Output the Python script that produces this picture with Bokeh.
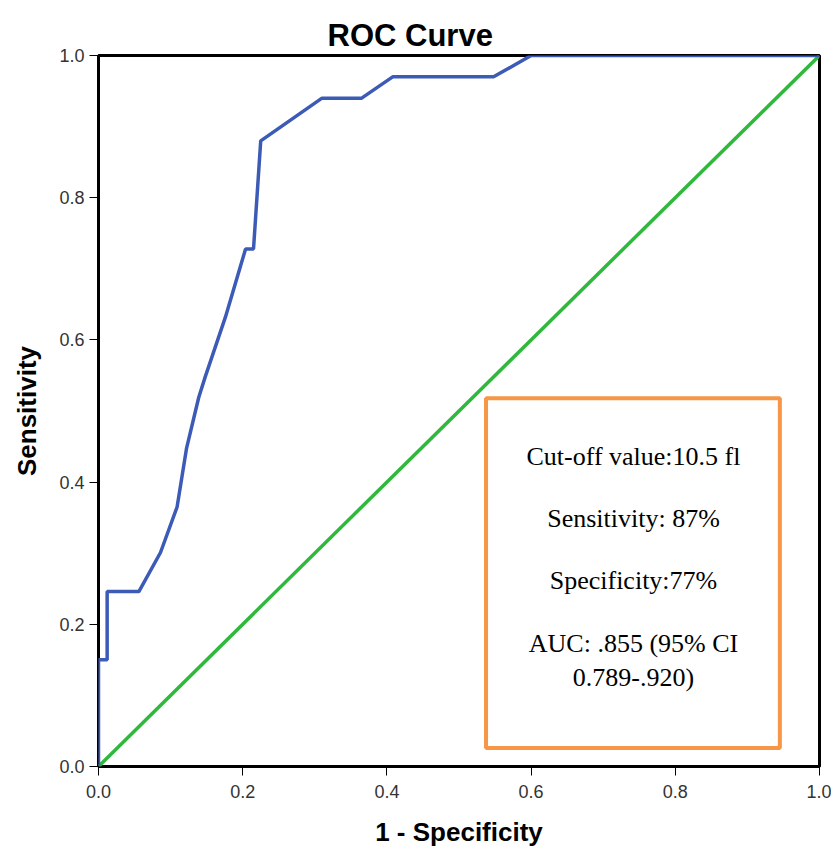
from bokeh.plotting import figure
from bokeh.models import Range1d, FixedTicker, PrintfTickFormatter, BoxAnnotation, Label, Title
from bokeh.embed import file_html
from bokeh.resources import INLINE

# ---- data ----
fpr = [0.0, 0.0, 0.012, 0.012, 0.056, 0.086, 0.109, 0.122, 0.139, 0.148, 0.176, 0.204, 0.215, 0.225,
       0.31, 0.365, 0.408, 0.548, 0.6, 1.0]
tpr = [0.0, 0.15, 0.15, 0.246, 0.246, 0.301, 0.365, 0.447, 0.519, 0.548, 0.632, 0.728, 0.728, 0.88,
       0.94, 0.94, 0.97, 0.97, 1.0, 1.0]
ref_x = [0.0, 1.0]
ref_y = [0.0, 1.0]
ticks = [0.0, 0.2, 0.4, 0.6, 0.8, 1.0]
box_lines = ["Cut-off value:10.5 fl", "Sensitivity: 87%", "Specificity:77%",
             "AUC: .855 (95% CI", "0.789-.920)"]

# ---- layout / style ----
BLUE = "#3c5bb6"
GREEN = "#2fb83c"
ORANGE = "#f79646"

p = figure(width=831, height=849, output_backend="svg", toolbar_location=None,
           x_range=Range1d(0, 1), y_range=Range1d(0, 1),
           min_border_left=98, min_border_right=12, min_border_top=55, min_border_bottom=83)

t = Title(text="ROC Curve", align="left", offset=229, text_font="Liberation Sans",
          text_font_size="31px", text_font_style="bold", text_color="#000000", standoff=4,
          vertical_align="middle")
p.add_layout(t, "above")

p.background_fill_color = "white"
p.border_fill_color = "white"
p.outline_line_color = "black"
p.outline_line_width = 3
p.xgrid.visible = False
p.ygrid.visible = False

for ax in (p.xaxis, p.yaxis):
    ax.ticker = FixedTicker(ticks=ticks)
    ax.formatter = PrintfTickFormatter(format="%.1f")
    ax.axis_line_color = None
    ax.major_tick_line_color = "black"
    ax.major_tick_line_width = 1
    ax.major_tick_out = 9
    ax.major_tick_in = 0
    ax.minor_tick_line_color = None
    ax.major_label_text_font = "Liberation Sans"
    ax.major_label_text_font_size = "18px"
    ax.major_label_text_color = "#333333"
    ax.axis_label_text_font = "Liberation Sans"
    ax.axis_label_text_font_size = "26px"
    ax.axis_label_text_font_style = "bold"
    ax.axis_label_text_color = "#000000"

p.xaxis.axis_label = "1 - Specificity"
p.yaxis.axis_label = "Sensitivity"
p.xaxis.major_label_standoff = 9
p.yaxis.major_label_standoff = 5
p.xaxis.axis_label_standoff = 16
p.yaxis.axis_label_standoff = 14

p.line(ref_x, ref_y, line_color=GREEN, line_width=3.5)
p.line(fpr, tpr, line_color=BLUE, line_width=3.5)

box = BoxAnnotation(left=0.5375, right=0.945, bottom=0.026, top=0.518,
                    fill_color="white", fill_alpha=1.0, line_color=ORANGE, line_width=4,
                    line_alpha=1.0)
p.add_layout(box)

line_y = [0.436, 0.349, 0.262, 0.173, 0.125]
for txt, yy in zip(box_lines, line_y):
    p.add_layout(Label(x=0.742, y=yy, text=txt, text_align="center", text_baseline="alphabetic",
                       text_font="Liberation Serif", text_font_size="26px", text_color="black"))

open("out.html", "w").write(file_html(p, INLINE))
